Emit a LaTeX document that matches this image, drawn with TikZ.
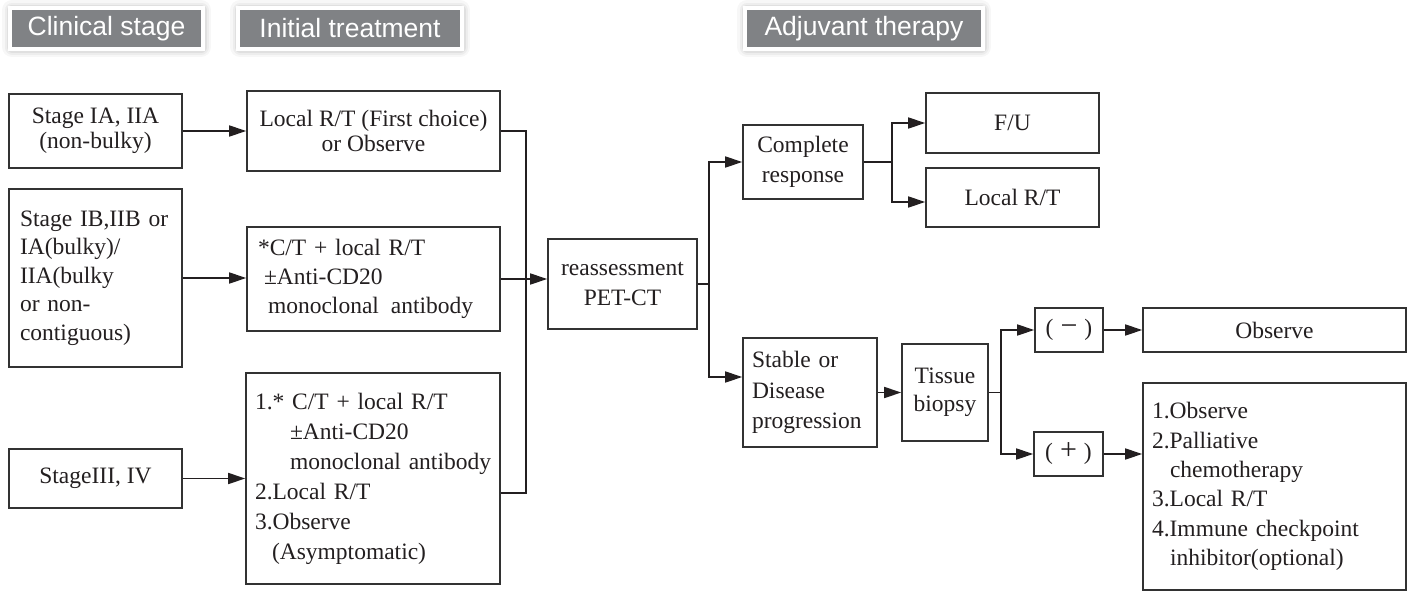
\documentclass[tikz,border=0pt]{standalone}
\usepackage{fontspec}
\setmainfont{Liberation Serif}
\newfontfamily\hdrfont{Liberation Sans}
\usetikzlibrary{arrows.meta,calc}
\definecolor{hdrgray}{RGB}{128,130,133}
\definecolor{ink}{RGB}{35,31,32}
\definecolor{edge}{RGB}{50,50,50}

\begin{document}
\begin{tikzpicture}[x=1pt,y=-1pt,
  hdr/.style={fill=hdrgray, text=white, inner sep=0pt,
    font=\hdrfont\fontsize{26.5}{30}\selectfont,
    preaction={draw=black, draw opacity=0.03, line width=20pt, line join=round},
    preaction={draw=black, draw opacity=0.04, line width=15pt, line join=round},
    preaction={draw=black, draw opacity=0.05, line width=11pt, line join=round},
    preaction={draw=white, line width=8pt}},
  box/.style={draw=edge, line width=1.6pt, text=ink, inner sep=0pt,
    font=\fontsize{23.5}{30}\selectfont, align=center},
  lbox/.style={box, align=left},
  arr/.style={draw=ink, line width=1.6pt, -{Triangle[length=17pt,width=11pt]}},
  wire/.style={draw=ink, line width=1.6pt},
]
\useasboundingbox (0,0) rectangle (1407,592);
\fill[white] (0,0) rectangle (1407,592);

% column headers
\node[hdr, minimum width=189pt, minimum height=37pt] (h1) at (106.5,28.5) {Clinical stage};
\node[hdr, minimum width=220pt, minimum height=37pt] (h2) at (350,28.5) {Initial treatment};
\node[hdr, minimum width=234pt, minimum height=37pt] (h3) at (864,28.5) {Adjuvant therapy};

% clinical stage
\node[box, font=\fontsize{23.5}{24.5}\selectfont, minimum width=173pt, minimum height=74pt] (A1) at (95.5,131) {Stage IA, IIA\\(non-bulky)};
\node[lbox, font=\fontsize{23.5}{28.5}\selectfont, text width=151pt, inner xsep=11pt, minimum height=178pt] (A2) at (95.5,278) {Stage IB,IIB or\\IA(bulky)/\\IIA(bulky\\or non-\\contiguous)};
\node[box, minimum width=173pt, minimum height=59pt] (A3) at (95.5,478.5) {StageIII, IV};

% initial treatment
\node[box, font=\fontsize{23.5}{24.5}\selectfont, minimum width=253pt, minimum height=80pt] (B1) at (373.5,131) {Local R/T (First choice)\\or Observe};
\node[lbox, font=\fontsize{23.5}{29}\selectfont, text width=231pt, inner xsep=11pt, minimum height=104pt] (B2) at (373.5,279) {*C/T + local R/T\\\hspace*{6pt}±Anti-CD20\\\mbox{\hspace*{10pt}monoclonal\hspace{12pt}antibody}};
\node[lbox, text width=236pt, inner xsep=9pt, minimum height=211pt] (B3) at (373,478.5) {1.* C/T + local R/T\\\hspace*{35pt}±Anti-CD20\\\mbox{\hspace*{35pt}monoclonal antibody}\\2.Local R/T\\3.Observe\\\hspace*{17pt}(Asymptomatic)};

% reassessment and response
\node[box, minimum width=149pt, minimum height=90pt] (R) at (622.5,284) {reassessment\\PET-CT};
\node[box, minimum width=120pt, minimum height=74pt] (CR) at (803,162) {Complete\\response};
\node[lbox, font=\fontsize{23.5}{30.5}\selectfont, text width=116pt, inner xsep=9pt, minimum height=109pt] (S) at (810,392.5) {Stable or\\Disease\\progression};
\node[box, minimum width=173pt, minimum height=60pt] (FU) at (1012.5,123) {F/U};
\node[box, minimum width=173pt, minimum height=59pt] (LRT) at (1012.5,197.5) {Local R/T};
\node[box, font=\fontsize{23.5}{28}\selectfont, minimum width=86pt, minimum height=97pt] (T) at (945,392.5) {Tissue\\biopsy};
\node[box, minimum width=68pt, minimum height=44pt] (NEG) at (1069,330) {(\hspace{7pt}{\fontsize{30}{30}\selectfont −}\hspace{7pt})};
\node[box, minimum width=69pt, minimum height=44pt] (POS) at (1068.5,454) {(\hspace{7pt}{\fontsize{30}{30}\selectfont +}\hspace{7pt})};
\node[box, minimum width=263pt, minimum height=44pt] (OBS) at (1274.5,330) {Observe};
\node[lbox, font=\fontsize{23.5}{29.3}\selectfont, text width=245pt, inner xsep=9pt, minimum height=207pt] (L) at (1274.5,486.5) {1.Observe\\2.Palliative\\\hspace*{18pt}chemotherapy\\3.Local R/T\\4.Immune checkpoint\\\hspace*{18pt}inhibitor(optional)};

% stage to treatment
\draw[arr] (A1.east) -- (A1.east -| B1.west);
\draw[arr] (A2.east) -- (A2.east -| B2.west);
\draw[arr] (A3.east) -- (A3.east -| B3.west);

% treatments gathered into the reassessment
\coordinate (bus) at (526,0);
\coordinate (b3o) at ($(B3.east)+(0,14.5)$);
\draw[wire] (B1.east) -| (bus |- b3o) -- (b3o);
\draw[arr] (B2.east) -- (B2.east -| R.west);

% response branches
\coordinate (rb) at (709,0);
\coordinate (sin) at ($(S.west)+(0,-15.5)$);
\draw[wire] (R.east) -- (R.east -| rb);
\draw[arr] (R.east -| rb) |- (CR.west);
\draw[arr] (R.east -| rb) |- (sin);

\coordinate (cb) at (892,0);
\coordinate (lrtin) at ($(LRT.west)+(0,4.5)$);
\draw[wire] (CR.east) -- (CR.east -| cb);
\draw[arr] (CR.east -| cb) |- (FU.west);
\draw[arr] (CR.east -| cb) |- (lrtin);

\draw[arr] (S.east) -- (S.east -| T.west);
\coordinate (tb) at (1001,0);
\draw[wire] (T.east) -- (T.east -| tb);
\draw[arr] (T.east -| tb) |- (NEG.west);
\draw[arr] (T.east -| tb) |- (POS.west);
\draw[arr] (NEG.east) -- (NEG.east -| OBS.west);
\draw[arr] (POS.east) -- (POS.east -| L.west);
\end{tikzpicture}
\end{document}
